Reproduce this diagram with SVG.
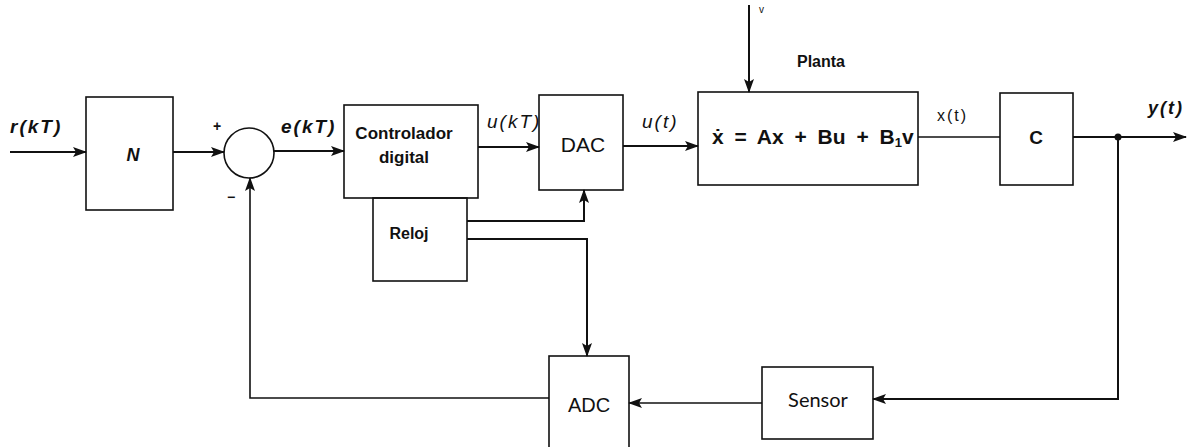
<svg xmlns="http://www.w3.org/2000/svg" width="1201" height="447" viewBox="0 0 1201 447">
<style>
.box{fill:none;stroke:#111;stroke-width:1.6}
.ln{fill:none;stroke:#111;stroke-width:2}
.thin{fill:none;stroke:#111;stroke-width:1.6}
.t{font-family:"Liberation Sans","Arial",sans-serif;fill:#111}
.b{font-weight:bold}
.i{font-style:italic}
.sig{letter-spacing:2px}
</style>
<defs>
<marker id="ah" viewBox="0 0 14 10" refX="13" refY="5" markerWidth="14" markerHeight="10" markerUnits="userSpaceOnUse" orient="auto">
<path d="M0,0 L14,5 L0,10 L3,5 Z" fill="#111"/>
</marker>
</defs>
<rect width="1201" height="447" fill="#fff"/>

<g id="node-N"><rect class="box" x="86" y="97" width="87" height="113"/><text class="t b i" x="133" y="161" font-size="18" text-anchor="middle">N</text></g>
<g id="node-sum"><circle class="box" cx="249" cy="153" r="25" stroke-width="2.2"/><text class="t b" x="217" y="131" font-size="14" text-anchor="middle">+</text><text class="t b" x="231" y="202" font-size="14" text-anchor="middle">−</text></g>
<g id="node-controlador"><rect class="box" x="344" y="105" width="134" height="93"/><text class="t b" x="404" y="139" font-size="17" text-anchor="middle">Controlador</text><text class="t b" x="404" y="163" font-size="17" text-anchor="middle">digital</text></g>
<g id="node-reloj"><rect class="box" x="373" y="198" width="94" height="83"/><text class="t b" x="409" y="239" font-size="16" text-anchor="middle">Reloj</text></g>
<g id="node-DAC"><rect class="box" x="539" y="95" width="84" height="95"/><text class="t" x="583" y="152" font-size="21" text-anchor="middle">DAC</text></g>
<g id="node-planta"><rect class="box" x="698" y="92" width="220" height="93"/><text class="t b" x="821" y="67" font-size="16" text-anchor="middle">Planta</text><text class="t b" x="712" y="144" font-size="21" word-spacing="5">ẋ = Ax + Bu + B<tspan font-size="13" dy="3">1</tspan><tspan dy="-3">v</tspan></text></g>
<g id="node-C"><rect class="box" x="1000" y="93" width="73" height="92"/><text class="t b" x="1036" y="144" font-size="19" text-anchor="middle">C</text></g>
<g id="node-ADC"><rect class="box" x="549" y="356" width="80" height="92"/><text class="t" x="589" y="412" font-size="20" text-anchor="middle">ADC</text></g>
<g id="node-sensor"><rect class="box" x="762" y="367" width="111" height="72"/><text x="818" y="407" font-family="Lato,'Open Sans',sans-serif" font-size="20" fill="#111" text-anchor="middle">Sensor</text></g>

<g id="connectors">
<line class="ln" x1="10" y1="152" x2="86" y2="152" marker-end="url(#ah)"/>
<line class="ln" x1="173" y1="152" x2="224" y2="152" marker-end="url(#ah)"/>
<line class="ln" x1="274" y1="151" x2="344" y2="151" marker-end="url(#ah)"/>
<line class="ln" x1="478" y1="147" x2="539" y2="147" marker-end="url(#ah)"/>
<line class="ln" x1="623" y1="146" x2="698" y2="146" marker-end="url(#ah)"/>
<line class="ln" x1="749" y1="5" x2="749" y2="92" marker-end="url(#ah)"/>
<line class="thin" x1="918" y1="137" x2="1000" y2="137"/>
<line class="ln" x1="1073" y1="137" x2="1186" y2="137" marker-end="url(#ah)"/>
<circle cx="1118" cy="137" r="3.5" fill="#111"/>
<polyline class="ln" points="467,221 584,221 584,190" marker-end="url(#ah)"/>
<polyline class="ln" points="467,239 587,239 587,356" marker-end="url(#ah)"/>
<polyline class="ln" points="1118,137 1118,399 873,399" marker-end="url(#ah)"/>
<line class="thin" x1="762" y1="403" x2="629" y2="403" marker-end="url(#ah)"/>
<polyline class="thin" points="549,398 250,398 250,178" marker-end="url(#ah)"/>
</g>

<g id="labels">
<text class="t b i sig" x="10" y="133" font-size="19">r(kT)</text>
<text class="t b i sig" x="281" y="133" font-size="19">e(kT)</text>
<text class="t i sig" x="487" y="128" font-size="19">u(kT)</text>
<text class="t i sig" x="642" y="128" font-size="19">u(t)</text>
<text class="t sig" x="937" y="121" font-size="16" letter-spacing="3">x(t)</text>
<text class="t b i sig" x="1148" y="114" font-size="18">y(t)</text>
<text class="t" x="759" y="13" font-size="10">v</text>
</g>
</svg>
